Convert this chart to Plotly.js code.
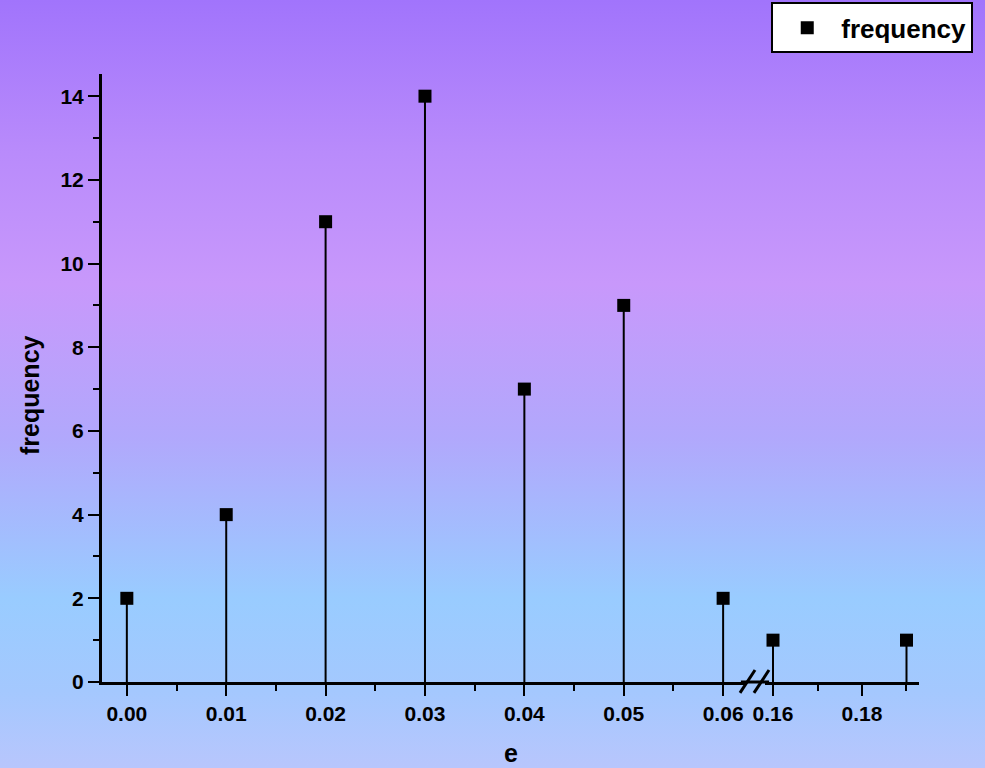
<!DOCTYPE html>
<html>
<head>
<meta charset="utf-8">
<script src="https://cdn.plot.ly/plotly-3.0.1.min.js"></script>
<style>
html, body { margin: 0; padding: 0; }
#chart {
  width: 985px; height: 768px;
  background: linear-gradient(to bottom, #a174fc 0%, #b98bfb 20%, #c898fb 37%, #b1a8fc 57%, #99ccff 78%, #a4c8fe 90%, #b8c6fd 100%);
}
</style>
</head>
<body>
<div id="chart"></div>
<script>
// Data
const eLow = [0.00, 0.01, 0.02, 0.03, 0.04, 0.05, 0.06];
const freqLow = [2, 4, 11, 14, 7, 9, 2];
const eHigh = [0.16, 0.19];
const freqHigh = [1, 1];
const seriesName = 'frequency';
const xTitle = 'e';
const yTitle = 'frequency';

const font = { family: 'Liberation Sans, Arial, sans-serif', color: '#000', weight: 'bold' };

function stemTrace(xs, ys, xaxis, showlegend) {
  return {
    type: 'scatter', mode: 'markers',
    x: xs, y: ys, xaxis: xaxis, yaxis: 'y',
    name: seriesName, showlegend: showlegend,
    marker: { symbol: 'square', size: 13, color: '#000' },
    error_y: { type: 'data', symmetric: false, array: ys.map(() => 0), arrayminus: ys, color: '#000', thickness: 2, width: 0 },
    cliponaxis: false
  };
}

const data = [
  stemTrace(eLow, freqLow, 'x', true),
  stemTrace(eHigh, freqHigh, 'x2', false)
];

const tickFont = Object.assign({}, font, { size: 21 });
const axisCommon = {
  showgrid: false, zeroline: false, showline: true, linecolor: '#000', linewidth: 3,
  ticks: 'outside', ticklen: 11, tickwidth: 2, tickcolor: '#000', tickfont: tickFont,
  fixedrange: true
};

const d1 = 0.787, d2 = 0.8115;
const titleFont = Object.assign({}, font, { size: 25 });

const layout = {
  width: 985, height: 768,
  paper_bgcolor: 'rgba(0,0,0,0)', plot_bgcolor: 'rgba(0,0,0,0)',
  margin: { l: 102, r: 66, t: 74, b: 86, autoexpand: false },
  font: font,
  showlegend: true,
  legend: {
    xref: 'container', yref: 'container', x: 0.783, y: 0.997, xanchor: 'left', yanchor: 'top',
    bgcolor: '#fff', bordercolor: '#000', borderwidth: 2, itemwidth: 58,
    font: Object.assign({}, font, { size: 26 })
  },
  xaxis: Object.assign({}, axisCommon, {
    domain: [0, d1], range: [-0.0025, 0.0622], tick0: 0, dtick: 0.01, tickformat: '.2f',
    minor: { ticks: 'outside', ticklen: 6, tickwidth: 2, tickcolor: '#000', dtick: 0.005, tick0: 0 },
    anchor: 'y'
  }),
  xaxis2: Object.assign({}, axisCommon, {
    domain: [d2, 1], range: [0.1582, 0.19281], tick0: 0.16, dtick: 0.02, tickformat: '.2f',
    minor: { ticks: 'outside', ticklen: 6, tickwidth: 2, tickcolor: '#000', dtick: 0.01, tick0: 0.16 },
    anchor: 'y'
  }),
  yaxis: Object.assign({}, axisCommon, {
    range: [0, 14.53], tick0: 0, dtick: 2,
    minor: { ticks: 'outside', ticklen: 6, tickwidth: 2, tickcolor: '#000', dtick: 1, tick0: 0 }
  }),
  annotations: [
    { text: xTitle, xref: 'paper', yref: 'paper', x: 0.5, y: -0.116, xanchor: 'center', yanchor: 'middle', showarrow: false, font: titleFont },
    { text: yTitle, xref: 'paper', yref: 'paper', x: -0.0881, y: 0.472, xanchor: 'center', yanchor: 'middle', textangle: -90, showarrow: false, font: titleFont }
  ],
  shapes: [
    { type: 'line', xref: 'paper', yref: 'paper', x0: d1 - 0.005, x1: d2 + 0.005, y0: 0, y1: 0, line: { color: '#000', width: 3 } },
    { type: 'line', xref: 'paper', yref: 'paper', x0: 0.7809, x1: 0.7993, y0: -0.018, y1: 0.0197, line: { color: '#000', width: 3 } },
    { type: 'line', xref: 'paper', yref: 'paper', x0: 0.7980, x1: 0.8164, y0: -0.018, y1: 0.0197, line: { color: '#000', width: 3 } }
  ]
};

Plotly.newPlot('chart', data, layout, { displayModeBar: false, staticPlot: true });
</script>
</body>
</html>
